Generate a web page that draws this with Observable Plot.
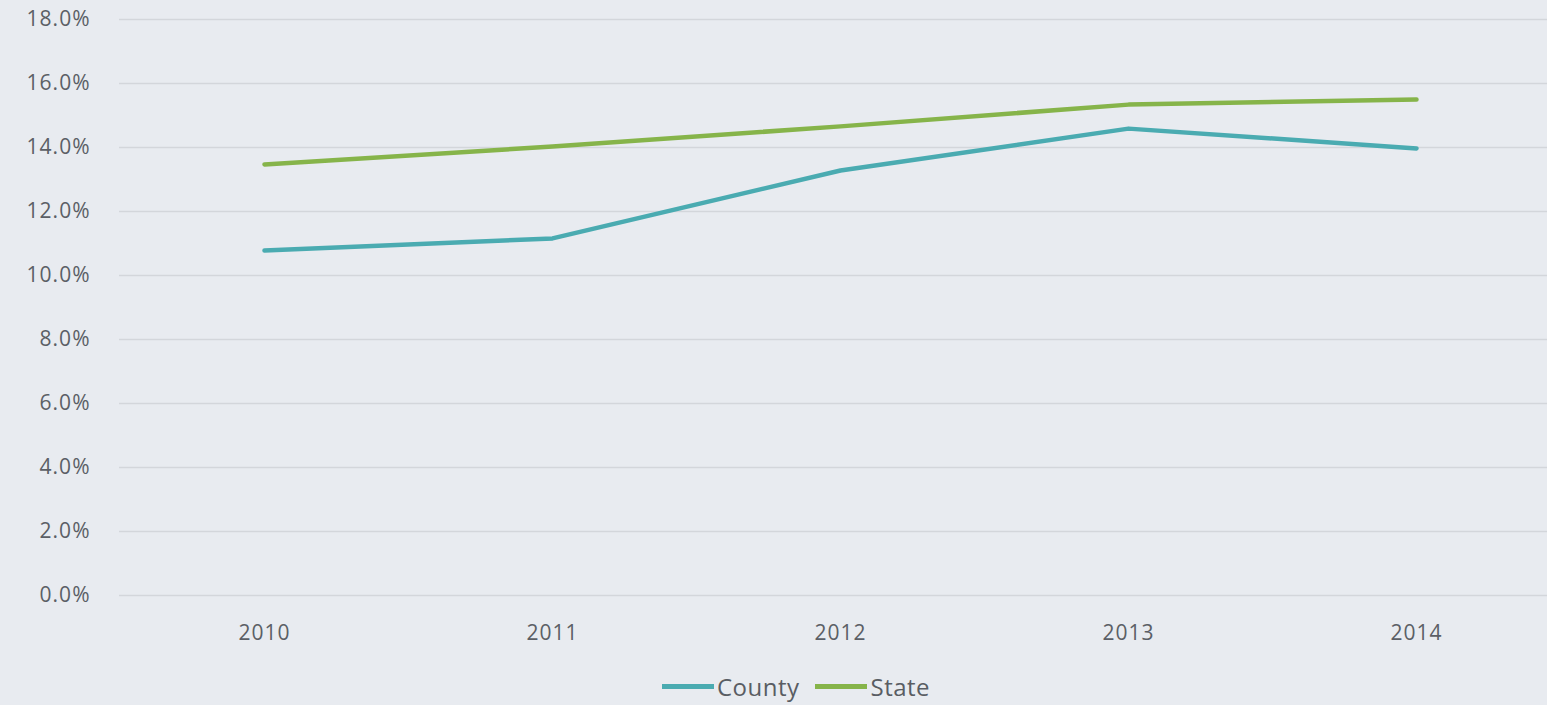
<!DOCTYPE html>
<html>
<head>
<meta charset="utf-8">
<script src="https://cdn.jsdelivr.net/npm/d3@7"></script>
<script src="https://cdn.jsdelivr.net/npm/@observablehq/plot@0.6"></script>
<style>
  html, body { margin: 0; padding: 0; background: #e8ebf0; }
  #chart svg { display: block; background: #e8ebf0; }
  #legend { display: flex; justify-content: center; align-items: center; gap: 16px; font-family: "Open Sans", sans-serif; font-size: 24px; color: #595d63; margin-top: 20px; padding-left: 45px; letter-spacing: 0.5px; }
  .item { display: flex; align-items: center; }
  .sw { width: 52px; height: 5px; margin-right: 3px; }
</style>
</head>
<body>
<div id="chart"></div>
<div id="legend"></div>
<script>
const years = ["2010", "2011", "2012", "2013", "2014"];
const county = [0.1078, 0.1116, 0.1328, 0.1459, 0.1397];
const state = [0.1347, 0.1403, 0.1466, 0.1534, 0.1550];
const seriesNames = ["County", "State"];
const seriesColors = ["#4aabb1", "#86b44a"];
const yTicks = [0, 0.02, 0.04, 0.06, 0.08, 0.10, 0.12, 0.14, 0.16, 0.18];

const rows = [];
years.forEach((y, i) => {
  rows.push({year: y, value: county[i], series: "County"});
  rows.push({year: y, value: state[i], series: "State"});
});

const chart = Plot.plot({
  width: 1547,
  height: 650,
  marginLeft: 119,
  marginRight: 0,
  marginTop: 19,
  marginBottom: 55,
  style: {fontFamily: "Open Sans, sans-serif", fontSize: "21px", color: "#5b5f66", background: "#e8ebf0", letterSpacing: "1px"},
  x: {type: "point", domain: years, range: [263, 1416], padding: 0, label: null},
  y: {domain: [0, 0.18], label: null},
  color: {domain: seriesNames, range: seriesColors},
  marks: [
    Plot.ruleY(yTicks, {stroke: "#d3d6db", strokeWidth: 1.5}),
    Plot.axisY(yTicks, {tickSize: 0, tickPadding: 29, tickFormat: d => d3.format(".1%")(d), fill: "#5b5f66", fontSize: 21, label: null}),
    Plot.axisX({tickSize: 0, tickPadding: 30, fill: "#5b5f66", fontSize: 21, label: null}),
    Plot.line(rows, {x: "year", y: "value", z: "series", stroke: "series", strokeWidth: 4.5, strokeLinejoin: "round"})
  ]
});
document.getElementById("chart").appendChild(chart);

const legend = document.getElementById("legend");
seriesNames.forEach((n, i) => {
  const it = document.createElement("div");
  it.className = "item";
  const sw = document.createElement("div");
  sw.className = "sw";
  sw.style.background = seriesColors[i];
  const t = document.createElement("span");
  t.textContent = n;
  it.appendChild(sw); it.appendChild(t);
  legend.appendChild(it);
});
</script>
</body>
</html>
